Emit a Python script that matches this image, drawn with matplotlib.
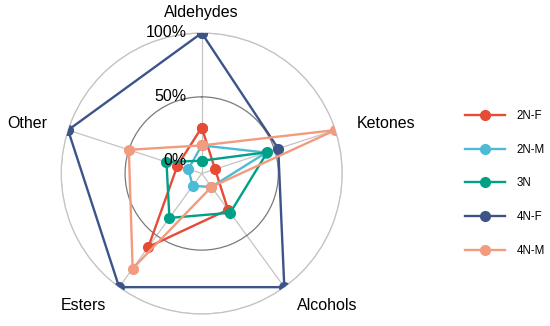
import numpy as np
import matplotlib.pyplot as plt
from matplotlib.transforms import offset_copy

# categories clockwise from the top
categories = ["Aldehydes", "Ketones", "Alcohols", "Esters", "Other"]

series_names = ["2N-F", "2N-M", "3N", "4N-F", "4N-M"]
v_2nf = [26, 1, 25, 61, 10]
v_2nm = [12, 43, 3, 2, 1]
v_3n = [0, 44, 28, 33, 19]
v_4nf = [100, 53, 100, 100, 100]
v_4nm = [12, 100, 3, 82, 50]

colors = ["#E64B35", "#4DBBD5", "#00A087", "#3C5488", "#F39B7F"]

r_ticks = [0, 50, 100]
r_labels = ["0%", "50%", "100%"]

plt.rcParams['font.family'] = ['Liberation Sans', 'DejaVu Sans']

fig = plt.figure(figsize=(5.5, 3.26), dpi=100)
ax = fig.add_axes([0.1113, 0.0368, 0.5109, 0.862], projection='polar')
ax.set_theta_zero_location('N')
ax.set_theta_direction(-1)

n = len(categories)
angles = np.linspace(0, 2 * np.pi, n, endpoint=False)
closed = np.concatenate([angles, angles[:1]])

all_values = [v_2nf, v_2nm, v_3n, v_4nf, v_4nm]
for name, vals, c in zip(series_names, all_values, colors):
    vv = list(vals) + [vals[0]]
    ax.plot(closed, vv, '-o', color=c, lw=1.7, markersize=7, label=name, zorder=3)

ax.set_ylim(-10, 100)

# grid: spokes and rings
ax.set_xticks(angles)
ax.set_xticklabels([])
ax.set_yticks(r_ticks)
ax.set_yticklabels([])
ax.xaxis.grid(True, color='#c4c4c4', lw=0.9)
ax.yaxis.grid(True)
grid_cols = ['none', '#7a7a7a', '#c4c4c4']
for gl, gc in zip(ax.yaxis.get_gridlines(), grid_cols):
    gl.set_color(gc)
    gl.set_linewidth(0.9)
ax.spines['polar'].set_color('#c4c4c4')
ax.spines['polar'].set_linewidth(0.9)
ax.tick_params(length=0)

# percent labels left of top spoke
trans = offset_copy(ax.transData, fig=fig, x=-15, y=0, units='dots')
for rv, lab in zip(r_ticks, r_labels):
    ax.text(0, rv, lab, transform=trans, ha='right', va='center', fontsize=11.5, zorder=4)

# category labels
ax.text(angles[0], 110.5, categories[0], ha='center', va='bottom', fontsize=11.5)
ax.text(angles[1], 117.5, categories[1], ha='left', va='center', fontsize=11.5)
ax.text(angles[2], 117.5, categories[2], ha='left', va='center', fontsize=11.5)
ax.text(angles[3], 117.5, categories[3], ha='right', va='center', fontsize=11.5)
ax.text(angles[4], 117.5, categories[4], ha='right', va='center', fontsize=11.5)

fig.legend(loc='center left', bbox_to_anchor=(465 / 550, 1 - 183.5 / 326),
           frameon=False, fontsize=8.3, handlelength=3.5, handletextpad=1.0,
           labelspacing=1.9, borderpad=0, borderaxespad=0)

fig.savefig('out.png', dpi=100)
